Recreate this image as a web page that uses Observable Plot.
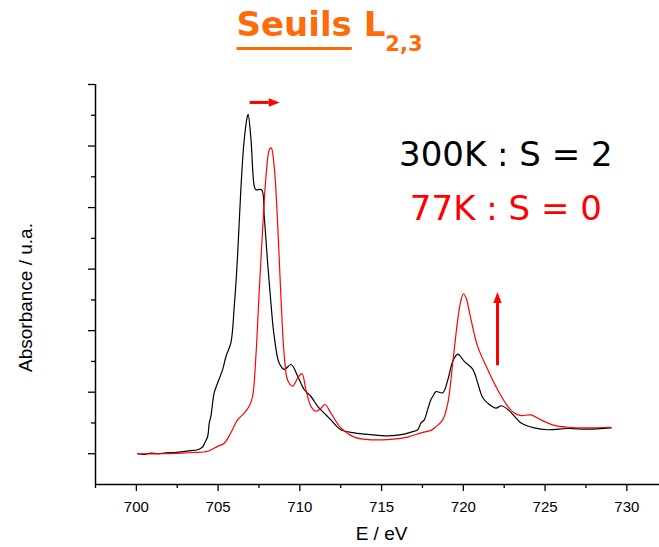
<!DOCTYPE html>
<html><head><meta charset="utf-8">
<script src="https://cdn.jsdelivr.net/npm/d3@7"></script>
<script src="https://cdn.jsdelivr.net/npm/@observablehq/plot@0.6"></script>
<style>
body{margin:0;background:#fff;}
#wrap{position:relative;width:659px;height:547px;overflow:hidden;background:#fff}
#chart{position:absolute;left:0;top:0}
#title{position:absolute;left:0;top:7px;width:659px;text-align:center;font-family:"DejaVu Sans",sans-serif;font-weight:bold;font-size:34px;color:#ff6a0a;line-height:34px;z-index:2;white-space:nowrap}
#title .u{text-decoration:underline;text-decoration-thickness:2.5px;text-underline-offset:11px}
#title .s{font-size:21px;position:relative;top:15px}
</style></head>
<body>
<div id="wrap"><div id="chart"></div><div id="title"><span class="u">Seuils</span> L<span class="s">2,3</span></div></div>
<script>
// 300K spectrum (black)
const E300 = [700.07,700.5,700.89,701.3,701.81,702.3,702.72,703.34,703.75,704.05,704.19,704.36,704.46,704.56,704.76,704.97,705.28,705.48,705.78,705.99,706.19,706.39,706.6,706.81,706.84,707.01,707.21,707.31,707.66,707.82,708.03,708.23,708.43,708.74,709.05,709.46,709.87,710.27,710.68,711.09,711.49,711.9,712.51,713.33,714.35,715.37,716.39,716.8,717.21,717.41,717.61,717.82,718.02,718.13,718.33,718.74,719.05,719.35,719.66,720.06,720.58,720.88,721.19,721.59,722.0,722.31,722.72,723.12,723.53,724.34,725.16,726.39,727.61,729.04];
const A300 = [0.00,-0.01,0.01,0.00,0.016,0.02,0.03,0.05,0.065,0.11,0.18,0.28,0.50,0.61,0.99,1.15,1.37,1.58,1.80,2.40,3.21,4.29,5.11,5.50,5.51,5.11,4.35,4.29,4.29,3.86,3.10,2.45,1.91,1.47,1.37,1.45,1.26,1.04,0.93,0.77,0.66,0.55,0.39,0.34,0.31,0.29,0.32,0.35,0.39,0.50,0.55,0.72,0.88,0.93,1.01,0.99,1.20,1.50,1.62,1.50,1.37,1.15,0.91,0.80,0.74,0.78,0.72,0.61,0.50,0.42,0.39,0.41,0.40,0.42];
// 77K spectrum (red)
const E77 = [700.07,701.5,702.72,703.5,704.36,704.97,705.37,705.78,706.19,706.6,706.9,707.11,707.31,707.52,707.72,707.93,708.13,708.25,708.43,708.64,708.84,709.05,709.25,709.56,709.87,710.13,710.37,710.68,710.99,711.29,711.54,711.9,712.51,713.33,714.15,715.37,716.6,717.41,718.02,718.33,718.74,719.05,719.35,719.66,719.86,720.01,720.17,720.47,720.88,721.49,722.1,722.72,723.12,723.53,724.14,724.75,725.57,726.39,727.61,729.04];
const A77 = [0.0,0.0,0.01,0.02,0.04,0.12,0.17,0.34,0.55,0.66,0.77,0.93,1.58,2.67,3.64,4.51,4.94,4.97,4.67,3.75,2.56,1.58,1.20,1.10,1.23,1.30,1.04,0.77,0.69,0.74,0.80,0.66,0.42,0.27,0.23,0.23,0.27,0.34,0.38,0.44,0.55,0.82,1.47,2.18,2.50,2.60,2.53,2.18,1.74,1.37,1.04,0.77,0.66,0.62,0.63,0.55,0.46,0.43,0.42,0.43];

const xDomain = [697.5, 732];
const yDomain = [-0.5, 6];
const xMajor = [700,705,710,715,720,725,730];
const xMinor = [697.5,702.5,707.5,712.5,717.5,722.5,727.5];
const yMajor = [0,1,2,3,4,5,6];
const yMinor = [0.5,1.5,2.5,3.5,4.5,5.5];

const labelText = ["300K : S = 2", "77K : S = 0"];
const labelE = [722.6, 722.6];
const labelA = [4.67, 3.80];
const labelColor = ["#000000", "#ff0000"];

const arrowX1 = [706.96, 722.12];
const arrowY1 = [5.70, 1.43];
const arrowX2 = [708.80, 722.12];
const arrowY2 = [5.70, 2.62];

function arrows(index, scales) {
  const g = d3.create("svg:g");
  for (let i = 0; i < arrowX1.length; i++) {
    const x1 = scales.x(arrowX1[i]), y1 = scales.y(arrowY1[i]);
    const x2 = scales.x(arrowX2[i]), y2 = scales.y(arrowY2[i]);
    const ang = Math.atan2(y2 - y1, x2 - x1);
    const hl = 11, hw = 4.2;
    const bx = x2 - hl * Math.cos(ang), by = y2 - hl * Math.sin(ang);
    g.append("line").attr("x1", x1).attr("y1", y1).attr("x2", bx).attr("y2", by)
      .attr("stroke", "#ff0000").attr("stroke-width", 3);
    const px = -Math.sin(ang) * hw, py = Math.cos(ang) * hw;
    g.append("path").attr("d", `M${x2},${y2}L${bx + px},${by + py}L${bx - px},${by - py}Z`)
      .attr("fill", "#ff0000");
  }
  return g.node();
}

const fontAxis = "Liberation Sans, Arial, sans-serif";
const noLabel = () => "";

const chart = Plot.plot({
  width: 659,
  height: 547,
  marginTop: 84,
  marginBottom: 63,
  marginLeft: 95,
  marginRight: 0,
  style: {background: "transparent", fontFamily: fontAxis, color: "#000"},
  x: {domain: xDomain, axis: null},
  y: {domain: yDomain, axis: null},
  marks: [
    Plot.axisX({ticks: xMinor, tickSize: 4, tickFormat: noLabel, stroke: "#000", strokeWidth: 1.3, label: null}),
    Plot.axisX({ticks: xMajor, tickSize: 7, tickPadding: 10, tickFormat: d => String(d), fontSize: 15, stroke: "#000", strokeWidth: 1.3, label: null}),
    Plot.axisY({ticks: yMinor, tickSize: 4, tickFormat: noLabel, stroke: "#000", strokeWidth: 1.3, label: null}),
    Plot.axisY({ticks: yMajor, tickSize: 7, tickFormat: noLabel, stroke: "#000", strokeWidth: 1.3, label: null}),
    Plot.ruleX([xDomain[0]], {stroke: "#000", strokeWidth: 1.5}),
    Plot.ruleY([yDomain[0]], {stroke: "#000", strokeWidth: 1.5}),
    Plot.text(["E / eV"], {frameAnchor: "bottom", dy: 55, dx: 4, fontSize: 19, fill: "#000"}),
    Plot.text(["Absorbance / u.a."], {frameAnchor: "left", rotate: -90, textAnchor: "middle", dx: -70, dy: 13, fontSize: 19, fill: "#000"}),
    Plot.line(E300, {x: E300, y: A300, stroke: "#000000", strokeWidth: 1.2, curve: "catmull-rom"}),
    Plot.line(E77, {x: E77, y: A77, stroke: "#ff0000", strokeWidth: 1.2, curve: "catmull-rom"}),
    Plot.text(labelText, {x: labelE, y: labelA, text: d => d, fill: labelColor, fontSize: 34, lineAnchor: "bottom", textAnchor: "middle", fontFamily: "DejaVu Sans, sans-serif"}),
    arrows
  ]
});
document.getElementById("chart").appendChild(chart);
</script>
</body></html>
